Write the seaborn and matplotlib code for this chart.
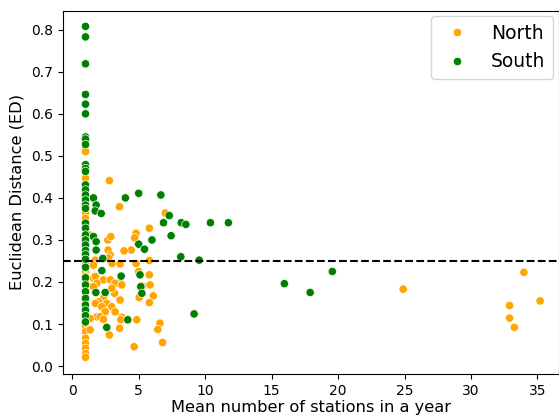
import matplotlib
matplotlib.use("Agg")
import matplotlib.pyplot as plt
import seaborn as sns
import pandas as pd

# North (orange) points
north_x = [1]*31 + [
    2.8, 3.56, 7.0, 5.8, 4.8, 4.7, 4.44, 3.9, 2.68, 2.9, 1.3, 2.7, 2.86, 1.73, 2.73,
    1.6, 3.0, 3.6, 4.8, 5.8, 5.0, 5.8, 1.6, 1.73, 2.36, 2.86, 3.6, 3.23, 1.86, 3.73,
    5.3, 5.86, 6.1, 5.04, 5.8, 3.18, 1.6, 2.98, 2.36, 1.98, 2.6, 1.73, 2.23, 2.98,
    3.6, 3.23, 2.48, 3.73, 1.86, 2.1, 2.36, 1.35, 3.66, 4.86, 2.8, 1.35, 3.56, 6.6,
    6.44, 6.8, 4.66, 24.9, 33.98, 32.9, 32.9, 33.26, 35.2]
north_y = [0.53, 0.518, 0.51, 0.447, 0.363, 0.351, 0.31, 0.30, 0.284, 0.268, 0.26,
           0.25, 0.244, 0.225, 0.213, 0.2, 0.189, 0.18, 0.169, 0.15, 0.141, 0.125,
           0.117, 0.105, 0.094, 0.082, 0.066, 0.054, 0.042, 0.03, 0.021] + [
    0.441, 0.379, 0.364, 0.328, 0.316, 0.305, 0.276, 0.274, 0.30, 0.308, 0.312, 0.276,
    0.264, 0.252, 0.257, 0.24, 0.244, 0.243, 0.244, 0.251, 0.225, 0.217, 0.209, 0.213,
    0.205, 0.205, 0.2, 0.197, 0.197, 0.193, 0.19, 0.193, 0.167, 0.163, 0.151, 0.173,
    0.189, 0.185, 0.161, 0.153, 0.149, 0.149, 0.141, 0.141, 0.157, 0.129, 0.129, 0.116,
    0.117, 0.117, 0.111, 0.113, 0.11, 0.11, 0.074, 0.086, 0.09, 0.102, 0.087, 0.056,
    0.046, 0.183, 0.223, 0.144, 0.114, 0.092, 0.155]

# South (green) points
south_x = [1]*35 + [
    1.6, 1.8, 1.73, 2.18, 4.0, 5.0, 6.67, 7.3, 6.87, 8.2, 8.55, 10.4, 11.75, 7.44,
    6.0, 5.0, 5.44, 8.17, 9.55, 1.6, 1.8, 1.8, 2.3, 2.23, 3.68, 5.1, 5.16, 5.24,
    1.78, 2.48, 4.18, 2.6, 9.17, 15.96, 17.9, 19.57]
south_y = [0.808, 0.783, 0.719, 0.646, 0.623, 0.600, 0.545, 0.54, 0.527, 0.479, 0.47,
           0.463, 0.431, 0.419, 0.407, 0.395, 0.383, 0.375, 0.34, 0.328, 0.312, 0.3,
           0.288, 0.275, 0.265, 0.254, 0.235, 0.21, 0.193, 0.177, 0.161, 0.145, 0.133,
           0.12, 0.105] + [
    0.40, 0.383, 0.369, 0.363, 0.40, 0.411, 0.407, 0.358, 0.341, 0.341, 0.337, 0.341,
    0.341, 0.31, 0.30, 0.29, 0.278, 0.26, 0.252, 0.308, 0.296, 0.276, 0.256, 0.227,
    0.214, 0.217, 0.189, 0.173, 0.175, 0.175, 0.11, 0.092, 0.124, 0.196, 0.175, 0.225]

threshold = 0.25

df = pd.DataFrame({
    "x": north_x + south_x,
    "y": north_y + south_y,
    "Region": ["North"] * len(north_x) + ["South"] * len(south_x),
})

fig = plt.figure(figsize=(5.59, 4.17), dpi=100)
ax = fig.add_axes([0.113, 0.103, 0.8865, 0.871])
sns.scatterplot(data=df, x="x", y="y", hue="Region",
                palette={"North": "orange", "South": "green"}, ax=ax)
ax.axhline(threshold, color="black", linestyle="--")
ax.set_xlim(-0.68, 36.6)
ax.set_ylim(-0.019, 0.845)
ax.set_xlabel("Mean number of stations in a year", fontsize=11.7, labelpad=1.5)
ax.set_ylabel("Euclidean Distance (ED)", fontsize=11.7, labelpad=5)
ax.legend(loc="upper right", fontsize=13.5, title=None, borderaxespad=0.3)
fig.savefig("out.png", dpi=100)
